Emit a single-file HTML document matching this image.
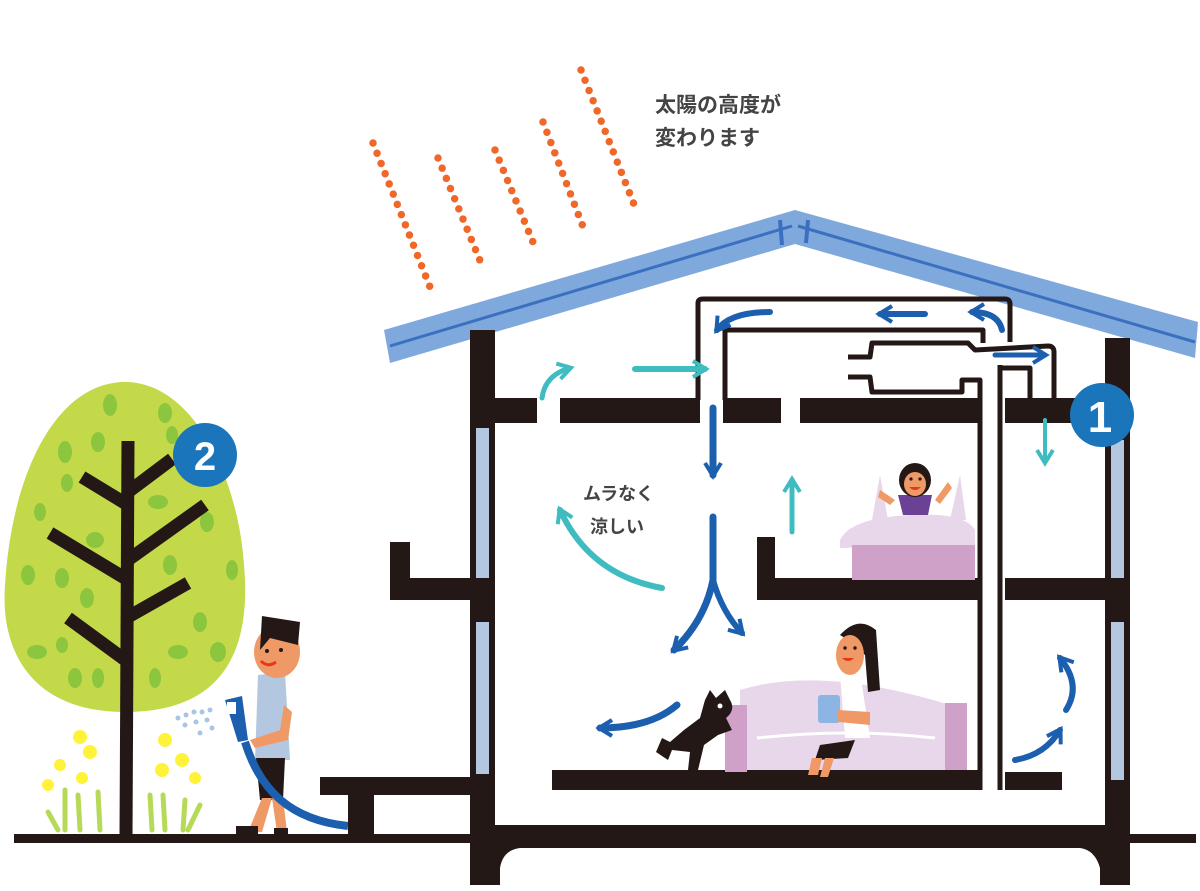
<!DOCTYPE html>
<html><head><meta charset="utf-8"><style>
html,body{margin:0;padding:0;background:#fff;}
svg{display:block;}
text{font-family:"Liberation Sans","Noto Sans CJK JP",sans-serif;fill:#3a3a3a;}
</style></head><body>
<svg width="1200" height="891" viewBox="0 0 1200 891" xmlns="http://www.w3.org/2000/svg">
<defs>
<marker id="t2" viewBox="0 0 20 20" refX="14" refY="10" markerWidth="20" markerHeight="20" orient="auto" markerUnits="userSpaceOnUse"><path d="M2,2 L15,10 L2,18" fill="none" stroke="#3fbcc0" stroke-width="4"/></marker>
<marker id="b2" viewBox="0 0 20 20" refX="14" refY="10" markerWidth="20" markerHeight="20" orient="auto" markerUnits="userSpaceOnUse"><path d="M2,2 L15,10 L2,18" fill="none" stroke="#1b5fae" stroke-width="4"/></marker>
</defs>

<!-- sun rays -->
<g stroke="#f0672a" stroke-width="7.5" stroke-linecap="round" stroke-dasharray="0 11" fill="none">
<line x1="373" y1="143" x2="430" y2="287"/>
<line x1="438" y1="158" x2="483" y2="268"/>
<line x1="495" y1="150" x2="535" y2="247"/>
<line x1="543" y1="122" x2="585" y2="232"/>
<line x1="581" y1="70" x2="637" y2="212"/>
</g>
<text x="655" y="112" font-size="21" font-weight="bold" style="fill:#444">太陽の高度が</text>
<text x="655" y="145" font-size="21" font-weight="bold" style="fill:#444">変わります</text>

<!-- ground -->
<rect x="14" y="834" width="1182" height="9" fill="#231815"/>

<!-- tree -->
<path d="M125,382 C192,382 238,475 244,565 C252,655 220,712 125,712 C35,712 0,655 5,585 C12,470 58,382 125,382 Z" fill="#c3d94a"/>
<g fill="#8cc63f">
<ellipse cx="110" cy="405" rx="7" ry="11"/><ellipse cx="165" cy="413" rx="7" ry="10"/><ellipse cx="65" cy="452" rx="7" ry="11"/><ellipse cx="98" cy="442" rx="7" ry="10"/><ellipse cx="172" cy="435" rx="6" ry="9"/>
<ellipse cx="67" cy="483" rx="6" ry="9"/><ellipse cx="40" cy="512" rx="6" ry="9"/><ellipse cx="158" cy="502" rx="10" ry="7"/><ellipse cx="207" cy="522" rx="7" ry="10"/>
<ellipse cx="95" cy="540" rx="9" ry="8"/><ellipse cx="28" cy="575" rx="7" ry="10"/><ellipse cx="62" cy="578" rx="7" ry="10"/><ellipse cx="170" cy="565" rx="7" ry="10"/><ellipse cx="232" cy="570" rx="6" ry="10"/>
<ellipse cx="87" cy="598" rx="7" ry="10"/><ellipse cx="200" cy="622" rx="7" ry="10"/><ellipse cx="37" cy="652" rx="10" ry="7"/><ellipse cx="62" cy="645" rx="6" ry="8"/>
<ellipse cx="178" cy="652" rx="10" ry="7"/><ellipse cx="218" cy="652" rx="8" ry="10"/><ellipse cx="75" cy="678" rx="7" ry="10"/><ellipse cx="98" cy="678" rx="6" ry="10"/><ellipse cx="155" cy="678" rx="6" ry="10"/>
</g>
<g stroke="#231815" stroke-width="13" stroke-linecap="butt" fill="none">
<line x1="128" y1="441" x2="126" y2="836"/>
<line x1="128" y1="492" x2="172" y2="459"/>
<line x1="128" y1="505" x2="82" y2="477"/>
<line x1="128" y1="560" x2="205" y2="505"/>
<line x1="128" y1="580" x2="50" y2="533"/>
<line x1="128" y1="617" x2="188" y2="583"/>
<line x1="128" y1="662" x2="68" y2="618"/>
</g>
<circle cx="205" cy="455" r="32" fill="#1a75bb"/>
<text x="205" y="470" font-size="40" font-weight="bold" text-anchor="middle" style="fill:#fff">2</text>

<!-- flowers -->
<g fill="#fff23a">
<circle cx="80" cy="737" r="7"/><circle cx="90" cy="752" r="7"/><circle cx="60" cy="765" r="6"/><circle cx="82" cy="778" r="6"/><circle cx="48" cy="785" r="6"/>
<circle cx="165" cy="740" r="7"/><circle cx="182" cy="760" r="7"/><circle cx="162" cy="770" r="7"/><circle cx="195" cy="778" r="6"/>
</g>
<g stroke="#b6d957" stroke-width="5" stroke-linecap="round">
<line x1="65" y1="790" x2="65" y2="830"/><line x1="78" y1="795" x2="80" y2="830"/><line x1="98" y1="792" x2="100" y2="830"/><line x1="48" y1="812" x2="58" y2="830"/>
<line x1="150" y1="795" x2="152" y2="830"/><line x1="163" y1="795" x2="165" y2="830"/><line x1="185" y1="800" x2="183" y2="830"/><line x1="200" y1="805" x2="188" y2="830"/>
</g>

<!-- man -->
<g fill="#a8c4e6"><circle cx="178" cy="718" r="2.5"/><circle cx="186" cy="715" r="2.5"/><circle cx="194" cy="712" r="2.5"/><circle cx="202" cy="712" r="2.5"/><circle cx="210" cy="710" r="2.5"/><circle cx="185" cy="725" r="2.5"/><circle cx="196" cy="722" r="2.5"/><circle cx="207" cy="720" r="2.5"/><circle cx="200" cy="733" r="2.5"/><circle cx="212" cy="728" r="2.5"/></g>
<path d="M258,675 L285,672 L290,760 L255,760 Z" fill="#b3c8e0"/>
<path d="M256,758 L285,758 L283,800 L260,800 Z" fill="#231815"/>
<path d="M262,798 L272,798 L262,832 L248,832 Z" fill="#ef9a66"/>
<path d="M272,798 L283,798 L287,832 L277,832 Z" fill="#ef9a66"/>
<path d="M236,826 L258,826 L258,834 L236,834 Z" fill="#231815"/>
<path d="M274,828 L288,828 L288,834 L274,834 Z" fill="#231815"/>
<ellipse cx="277" cy="652" rx="23" ry="26" fill="#ef9a66"/>
<path d="M262,616 L300,622 L298,645 L270,638 L260,650 Z" fill="#231815"/>
<circle cx="267" cy="651" r="2" fill="#231815"/><circle cx="281" cy="650" r="2" fill="#231815"/>
<path d="M261,661 Q268,668 276,662" stroke="#e8381c" stroke-width="3" fill="none"/>
<path d="M284,705 L292,712 L288,740 L255,748 L250,740 L280,730 Z" fill="#ef9a66"/>
<path d="M225,700 L242,696 L248,740 L238,742 Z" fill="#1b5fae"/>
<rect x="227" y="702" width="9" height="12" fill="#fff"/>
<path d="M245,742 C260,790 290,820 348,826" stroke="#1b5fae" stroke-width="8" fill="none"/>
<!-- step -->
<rect x="320" y="777" width="152" height="18" fill="#231815"/>
<rect x="348" y="792" width="26" height="44" fill="#231815"/>

<!-- roof -->
<path d="M384,330 L795,210 L1198,322 L1195,358 L795,244 L390,363 Z" fill="#7fa8dc"/>
<path d="M390,346 L792,226 M798,226 L1195,342" stroke="#3b6fc0" stroke-width="3" fill="none"/>
<path d="M780,220 L782,245 M808,220 L806,243" stroke="#3b6fc0" stroke-width="4"/>

<!-- house walls -->
<g fill="#231815">
<rect x="470" y="330" width="25" height="510"/>
<rect x="1105" y="338" width="25" height="502"/>
<path d="M470,825 L1130,825 L1130,885 L1100,885 L1100,868 Q1095,850 1080,848 L520,848 Q503,850 500,868 L500,885 L470,885 Z"/>
<rect x="495" y="398" width="42" height="25"/>
<rect x="560" y="398" width="140" height="25"/>
<rect x="723" y="398" width="58" height="25"/>
<rect x="800" y="398" width="180" height="25"/>
<rect x="1005" y="398" width="100" height="25"/>
<rect x="757" y="537" width="18" height="62"/>
<rect x="757" y="578" width="225" height="22"/>
<rect x="1005" y="578" width="100" height="22"/>
<rect x="390" y="542" width="20" height="58"/>
<rect x="390" y="578" width="80" height="22"/>
<rect x="552" y="770" width="430" height="20"/>
<rect x="1005" y="772" width="57" height="18"/>
</g>
<g fill="#b3c8e0">
<rect x="476" y="428" width="13" height="150"/><rect x="476" y="622" width="13" height="152"/>
<rect x="1111" y="440" width="13" height="138"/><rect x="1111" y="622" width="13" height="158"/>
</g>

<!-- ducts -->
<g stroke="#231815" stroke-width="5" fill="none" stroke-linejoin="round">
<path d="M698,400 L698,303 Q698,299 703,299 L1005,299 Q1010,299 1010,304 L1010,342"/>
<path d="M725,400 L725,330 L983,330 L983,343"/>
<path d="M848,357 L870,357 L872,343 L968,343 L975,350 L1048,346 Q1054,346 1054,352 L1054,400"/>
<path d="M848,377 L870,377 L872,392 L962,392 L962,380 L980,380 L980,790"/>
<path d="M1000,365 L1000,790"/>
<path d="M1000,368 L1030,368 L1030,400"/>
</g>

<!-- arrows -->
<g fill="none" stroke-linecap="round">
<path d="M542,398 Q545,375 570,368" stroke="#3fbcc0" stroke-width="5" marker-end="url(#t2)"/>
<path d="M635,369 L705,369" stroke="#3fbcc0" stroke-width="6" marker-end="url(#t2)"/>
<path d="M770,312 Q730,312 717,330" stroke="#1b5fae" stroke-width="6" marker-end="url(#b2)"/>
<path d="M925,314 L880,314" stroke="#1b5fae" stroke-width="6" marker-end="url(#b2)"/>
<path d="M1002,330 Q998,312 972,312" stroke="#1b5fae" stroke-width="6" marker-end="url(#b2)"/>
<path d="M995,355 L1045,355" stroke="#1b5fae" stroke-width="5" marker-end="url(#b2)"/>
<path d="M1045,420 L1045,462" stroke="#3fbcc0" stroke-width="4" marker-end="url(#t2)"/>
<path d="M713,408 L713,475" stroke="#1b5fae" stroke-width="7" marker-end="url(#b2)"/>
<path d="M792,532 L792,480" stroke="#3fbcc0" stroke-width="5" marker-end="url(#t2)"/>
<path d="M662,588 Q590,575 560,510" stroke="#3fbcc0" stroke-width="6" marker-end="url(#t2)"/>
<path d="M713,517 L713,580 Q705,620 674,650" stroke="#1b5fae" stroke-width="7" marker-end="url(#b2)"/>
<path d="M713,580 Q722,612 742,633" stroke="#1b5fae" stroke-width="6" marker-end="url(#b2)"/>
<path d="M677,705 Q650,728 600,728" stroke="#1b5fae" stroke-width="7" marker-end="url(#b2)"/>
<path d="M1015,760 Q1045,755 1060,730" stroke="#1b5fae" stroke-width="6" marker-end="url(#b2)"/>
<path d="M1066,710 Q1082,685 1060,658" stroke="#1b5fae" stroke-width="6" marker-end="url(#b2)"/>
</g>
<text x="583" y="500" font-size="18" font-weight="bold" style="fill:#444">ムラなく</text>
<text x="590" y="533" font-size="18" font-weight="bold" style="fill:#444">涼しい</text>

<circle cx="1102" cy="415" r="32" fill="#1a75bb"/>
<text x="1100" y="432" font-size="44" font-weight="bold" text-anchor="middle" style="fill:#fff">1</text>

<!-- bed & girl -->
<path d="M872,520 L880,475 L888,520 Z M950,520 L960,475 L966,520 Z" fill="#e8d6ea"/>
<path d="M840,540 Q850,518 910,515 Q965,512 975,530 L975,545 L840,548 Z" fill="#e8d6ea"/>
<rect x="852" y="545" width="123" height="35" fill="#cfa0c8"/>
<path d="M880,490 L895,500 L890,505 L878,497 Z M948,482 L935,500 L940,504 L952,488 Z" fill="#ef9a66"/>
<path d="M898,495 L932,495 L928,515 L903,515 Z" fill="#6b4196"/>
<ellipse cx="915" cy="480" rx="16" ry="17" fill="#231815"/>
<ellipse cx="915" cy="484" rx="11" ry="12" fill="#ef9a66"/>
<circle cx="911" cy="479" r="1.6" fill="#231815"/><circle cx="920" cy="479" r="1.6" fill="#231815"/>
<path d="M909,487 Q915,493 921,487" fill="#e8381c"/>

<!-- sofa & woman -->
<path d="M740,690 Q820,665 950,705 L955,770 L740,770 Z" fill="#e8d6ea"/>
<rect x="725" y="705" width="22" height="67" fill="#cfa0c8"/>
<rect x="945" y="703" width="22" height="67" fill="#cfa0c8"/>
<path d="M757,738 Q850,728 935,738" stroke="#fff" stroke-width="3" fill="none"/>
<path d="M840,675 L860,672 L870,738 L845,738 Z" fill="#fff"/>
<path d="M820,745 L855,740 L848,758 L815,760 Z" fill="#231815"/>
<path d="M812,758 L822,758 L818,775 L808,775 Z M825,758 L834,758 L828,777 L820,777 Z" fill="#ef9a66"/>
<rect x="818" y="695" width="22" height="28" rx="3" fill="#8cb5e4"/>
<path d="M838,710 L870,712 L870,725 L838,722 Z" fill="#ef9a66"/>
<path d="M840,635 Q858,615 876,630 L880,690 L868,692 L865,655 L848,640 Z" fill="#231815"/>
<ellipse cx="850" cy="655" rx="14" ry="20" fill="#ef9a66"/>
<circle cx="845" cy="648" r="1.7" fill="#231815"/><circle cx="855" cy="648" r="1.7" fill="#231815"/>
<path d="M842,658 Q848,664 854,658" fill="#e8381c"/>
<path d="M705,700 L710,690 L716,698 L725,690 L730,700 Q736,710 726,718 L732,730 L718,735 L704,745 L698,770 L688,770 L690,752 L672,750 L668,760 L656,752 L662,738 L670,742 L684,730 L700,718 Z" fill="#231815"/>
<circle cx="720" cy="706" r="2.5" fill="#fff"/>
</svg>
</body></html>
